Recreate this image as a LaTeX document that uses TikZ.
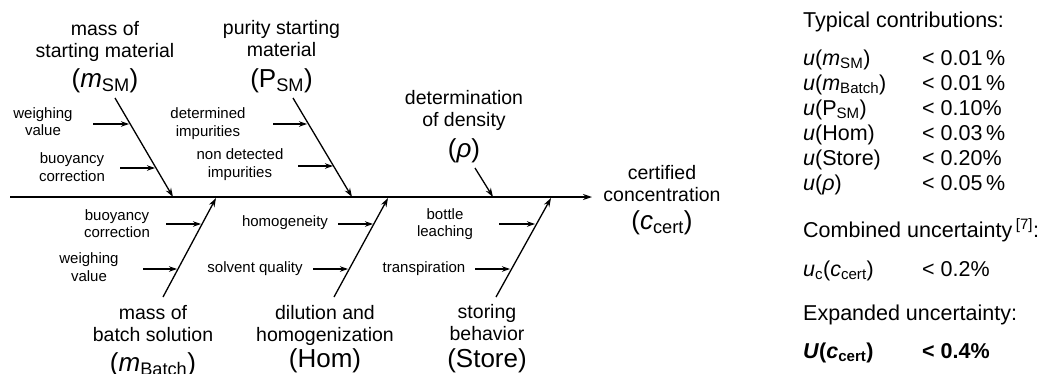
\documentclass[tikz,border=0pt]{standalone}
\usepackage{fontspec}
\setmainfont{Liberation Sans}
\usetikzlibrary{arrows.meta}
\begin{document}
\begin{tikzpicture}[x=1pt,y=-1pt,
  bone/.style={line width=1.3pt,-{Stealth[length=9pt,width=6pt]}},
  twig/.style={line width=1.1pt,-{Stealth[length=8pt,width=5.5pt]}},
  cause/.style={font=\fontsize{19.5}{22}\selectfont,align=center,inner sep=0pt},
  sym/.style={font=\fontsize{26}{28}\selectfont,inner sep=0pt,anchor=base},
  lbl/.style={font=\fontsize{15}{17.5}\selectfont,align=center,inner sep=0pt},
  panel/.style={font=\fontsize{21.5}{25}\selectfont,inner sep=0pt,anchor=base west}]
\useasboundingbox (0,0) rectangle (1042,373);

% spine
\coordinate (tail) at (10,197);
\coordinate (head) at (592,197);
\draw[bone] (tail) -- (head);

% main branches
\coordinate (b1s) at (115,98);  \coordinate (b1e) at (173,197);
\coordinate (b2s) at (293,98);  \coordinate (b2e) at (352,197);
\coordinate (b3s) at (475,168); \coordinate (b3e) at (493,197);
\coordinate (b4s) at (163,297); \coordinate (b4e) at (216,198);
\coordinate (b5s) at (334,297); \coordinate (b5e) at (388,198);
\coordinate (b6s) at (496,297); \coordinate (b6e) at (551,198);
\draw[bone] (b1s) -- (b1e);
\draw[bone] (b2s) -- (b2e);
\draw[bone] (b3s) -- (b3e);
\draw[bone] (b4s) -- (b4e);
\draw[bone] (b5s) -- (b5e);
\draw[bone] (b6s) -- (b6e);

% cause titles
\node[cause] (msm) at (105,41) {mass of\\starting material};
\node[sym] (msmsym) at (105,87) {(\textit{m}\textsubscript{SM})};
\node[cause] (psm) at (281.5,39) {purity starting\\material};
\node[sym] (psmsym) at (281.5,87) {(P\textsubscript{SM})};
\node[cause] (dens) at (464,110.4) {determination\\of density};
\node[sym] (denssym) at (464,157) {(\textit{ρ})};
\node[cause] (cert) at (662,183.4) {certified\\concentration};
\node[sym] (certsym) at (662,229.5) {(\textit{c}\textsubscript{cert})};
\node[cause] (mb) at (153,324) {mass of\\batch solution};
\node[sym] (mbsym) at (153,371) {(\textit{m}\textsubscript{Batch})};
\node[cause] (hom) at (325,325.4) {dilution and\\homogenization};
\node[sym] (homsym) at (325,367) {(Hom)};
\node[cause] (store) at (487,323) {storing\\behavior};
\node[sym] (storesym) at (487,367) {(Store)};

% sub-cause labels
\node[lbl] (l1) at (43,121.5) {weighing\\value};
\node[lbl] (l2) at (72,167) {buoyancy\\correction};
\node[lbl] (l3) at (208,123.5) {determined\\impurities};
\node[lbl] (l4) at (240,164.5) {non detected\\impurities};
\node[lbl] (l5) at (117,223.5) {buoyancy\\correction};
\node[lbl] (l6) at (89,267) {weighing\\value};
\node[lbl] (l7) at (285,223) {homogeneity};
\node[lbl] (l8) at (255,269) {solvent quality};
\node[lbl] (l9) at (445,224) {bottle\\leaching};
\node[lbl] (l10) at (424,269) {transpiration};

% sub-cause arrows
\coordinate (t1s) at (93,124);  \coordinate (t1e) at (129,124);
\coordinate (t2s) at (120,168); \coordinate (t2e) at (155,168);
\coordinate (t3s) at (273,124); \coordinate (t3e) at (307,124);
\coordinate (t4s) at (298,166); \coordinate (t4e) at (333,166);
\coordinate (t5s) at (166,224); \coordinate (t5e) at (201,224);
\coordinate (t6s) at (143,269); \coordinate (t6e) at (177,269);
\coordinate (t7s) at (338,224); \coordinate (t7e) at (373,224);
\coordinate (t8s) at (313,269); \coordinate (t8e) at (348,269);
\coordinate (t9s) at (499,224); \coordinate (t9e) at (535,224);
\coordinate (t10s) at (475,269); \coordinate (t10e) at (510,269);
\foreach \i in {1,...,10} {\draw[twig] (t\i s) -- (t\i e);}

% right panel
\node[panel] (p0) at (803,27) {Typical contributions:};
\node[panel] (p1a) at (803,65) {\textit{u}(\textit{m}\textsubscript{SM})};
\node[panel] (p1b) at (922,65) {< 0.01\,\%};
\node[panel] (p2a) at (803,90) {\textit{u}(\textit{m}\textsubscript{Batch})};
\node[panel] (p2b) at (922,90) {< 0.01\,\%};
\node[panel] (p3a) at (803,115) {\textit{u}(P\textsubscript{SM})};
\node[panel] (p3b) at (922,115) {< 0.10\%};
\node[panel] (p4a) at (803,140) {\textit{u}(Hom)};
\node[panel] (p4b) at (922,140) {< 0.03\,\%};
\node[panel] (p5a) at (803,165) {\textit{u}(Store)};
\node[panel] (p5b) at (922,165) {< 0.20\%};
\node[panel] (p6a) at (803,190) {\textit{u}(\textit{ρ})};
\node[panel] (p6b) at (922,190) {< 0.05\,\%};
\node[panel] (p7) at (803,237) {Combined uncertainty\,\textsuperscript{[7]}:};
\node[panel] (p8a) at (803,276) {\textit{u}\textsubscript{c}(\textit{c}\textsubscript{cert})};
\node[panel] (p8b) at (922,276) {< 0.2\%};
\node[panel] (p9) at (803,320) {Expanded uncertainty:};
\node[panel] (p10a) at (803,358) {\textbf{\textit{U}(\textit{c}\textsubscript{cert})}};
\node[panel] (p10b) at (922,358) {\textbf{< 0.4\%}};
\end{tikzpicture}
\end{document}
